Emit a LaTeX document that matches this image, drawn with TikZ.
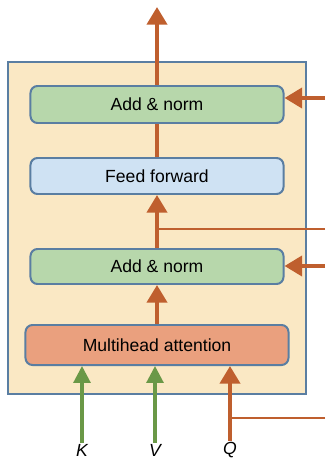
\documentclass[tikz,border=0pt]{standalone}
\usepackage{fontspec}
\setmainfont{Liberation Sans}
\usetikzlibrary{arrows.meta}
\definecolor{flow}{HTML}{BF5F2E}
\definecolor{kv}{HTML}{6A9847}
\definecolor{edge}{HTML}{5A7EA2}
\definecolor{layerbg}{HTML}{FAE8C4}
\definecolor{normbg}{HTML}{B7D7AB}
\definecolor{ffbg}{HTML}{CFE2F3}
\definecolor{attbg}{HTML}{EAA07E}
\begin{document}
\begin{tikzpicture}[
                    x=0.03cm, y=-0.03cm,
                    >={Triangle[length=15pt,width=17pt]},
                    font=\fontsize{15}{18}\selectfont,
                    block/.style={rectangle, rounded corners=6pt, draw=edge, line width=1.7pt, minimum width=7.59cm, inner sep=0pt},
                    res/.style={draw=flow, line width=3.4pt},
                    kvline/.style={draw=kv, line width=2.6pt, >={Triangle[length=14.5pt,width=14.5pt]}},
                    tap/.style={draw=flow, line width=1.7pt},
                    inlabel/.style={inner sep=1pt, font=\fontsize{15}{15}\selectfont\itshape}
                ]
                \useasboundingbox (0,0) rectangle (325,460);
                % Blocks
                \node [rectangle, draw=edge, fill=layerbg, line width=1.7pt, minimum width=8.94cm, minimum height=9.96cm] (layer) at (157,228) {};
                \node [block, fill=normbg, minimum height=1.11cm] (an2) at (157,104.5) {Add \& norm};
                \node [block, fill=ffbg, minimum height=1.08cm] (ff) at (157,176) {Feed forward};
                \node [block, fill=normbg, minimum height=1.05cm] (an1) at (157,266.5) {Add \& norm};
                \node [block, fill=attbg, minimum width=7.89cm, minimum height=1.2cm] (mha) at (157,345) {Multihead attention};
                \node [inlabel] (k) at (82,450) {K};
                \node [inlabel] (v) at (155,450) {V};
                \node [inlabel] (q) at (230,450) {Q};
                \coordinate (out) at (157,7);
                \coordinate (in2) at (325,98);
                \coordinate (in1) at (325,266);
                \coordinate (tap) at (325,229);
                \coordinate (qtap) at (325,418);
            
                % Connections
                \draw [tap] (tap) -- (tap -| ff.south);
                \draw [tap] (qtap) -- (qtap -| q.north);
                \draw [res,->] (an2.north) -- (out);
                \draw [res] (ff.north) -- (an2.south);
                \draw [res,->] (an1.north) -- (ff.south);
                \draw [res,->] (mha.north) -- (an1.south);
                \draw [res,->] (in2) -- (in2 -| an2.east);
                \draw [res,->] (in1) -- (in1 -| an1.east);
                \draw [kvline,->] (k.north) -- (k.north |- mha.south);
                \draw [kvline,->] (v.north) -- (v.north |- mha.south);
                \draw [res,->] (q.north) -- (q.north |- mha.south);
            \end{tikzpicture}
\end{document}
